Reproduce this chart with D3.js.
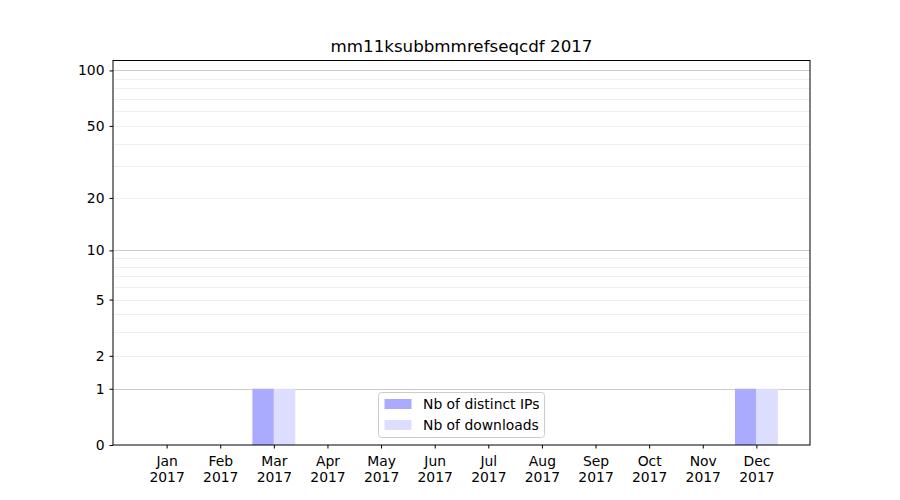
<!DOCTYPE html>
<html><head><meta charset="utf-8">
<script src="https://cdn.jsdelivr.net/npm/d3@7"></script>
<style>body{margin:0;background:#fff}svg{font-family:"DejaVu Sans",sans-serif}</style>
</head><body><svg id="c" width="900" height="500"></svg>
<script>
const months = ["Jan","Feb","Mar","Apr","May","Jun","Jul","Aug","Sep","Oct","Nov","Dec"];
const year = "2017";
const ips = [0,0,1,0,0,0,0,0,0,0,0,1];
const downloads = [0,0,1,0,0,0,0,0,0,0,0,1];
const yTicks = [0,1,2,5,10,20,50,100];
const majorGrid = [1,10,100];
const minorGrid = [2,3,4,5,6,7,8,9,20,30,40,50,60,70,80,90];
const seriesNames = ["Nb of distinct IPs","Nb of downloads"];
const colors = ["#aaaaff","#ddddff"];
const title = "mm11ksubbmmrefseqcdf 2017";

const svg = d3.select("#c");
const L=113, R=810, T=60.5, B=445;
const FS=13.9;
const x = d3.scaleLinear().domain([-1,12]).range([L,R]);
const y = d3.scaleSymlog().constant(1).domain([0,113.2]).range([B,T]);
const bw = x(0.4)-x(0);

const g = svg.append("g");
g.selectAll("line.minor").data(minorGrid).join("line")
  .attr("x1",L).attr("x2",R).attr("y1",d=>Math.round(y(d))+0.5).attr("y2",d=>Math.round(y(d))+0.5)
  .attr("stroke","#ebebeb").attr("stroke-width",0.8);
g.selectAll("line.major").data(majorGrid).join("line")
  .attr("x1",L).attr("x2",R).attr("y1",d=>Math.round(y(d))+0.5).attr("y2",d=>Math.round(y(d))+0.5)
  .attr("stroke","#cccccc").attr("stroke-width",1);

g.selectAll("rect.ip").data(ips).join("rect")
  .attr("x",(d,i)=>x(i)-bw).attr("width",bw)
  .attr("y",d=>y(d)).attr("height",d=>B-y(d)).attr("fill",colors[0]);
g.selectAll("rect.dl").data(downloads).join("rect")
  .attr("x",(d,i)=>x(i)).attr("width",bw)
  .attr("y",d=>y(d)).attr("height",d=>B-y(d)).attr("fill",colors[1]);

// frame
svg.append("rect").attr("x",L).attr("y",T).attr("width",R-L).attr("height",B-T)
  .attr("fill","none").attr("stroke","#000").attr("stroke-width",1);

// y axis
const ya = svg.append("g").attr("transform",`translate(${L},0)`)
  .call(d3.axisLeft(y).tickValues(yTicks).tickFormat(d3.format("d")).tickSize(3.5).tickPadding(5));
ya.select(".domain").remove();
ya.selectAll("text").attr("font-size",FS).attr("fill","#000").attr("font-family","DejaVu Sans");

// x axis
const xa = svg.append("g").attr("transform",`translate(0,${B})`)
  .call(d3.axisBottom(x).tickValues(d3.range(12)).tickSize(3.5).tickFormat(""));
xa.select(".domain").remove();
xa.selectAll(".tick").each(function(d){
  const t=d3.select(this).append("text").attr("fill","#000").attr("font-size",FS)
    .attr("text-anchor","middle").attr("font-family","DejaVu Sans");
  t.append("tspan").attr("x",0).attr("y",21).text(months[d]);
  t.append("tspan").attr("x",0).attr("y",37).text(year);
});

svg.append("text").attr("x",(L+R)/2).attr("y",52).attr("text-anchor","middle")
  .attr("font-size",16.7).attr("fill","#000").text(title);

// legend
const lg = svg.append("g").attr("transform","translate(378.5,392.5)");
lg.append("rect").attr("width",166).attr("height",45).attr("rx",3)
  .attr("fill","#fff").attr("fill-opacity",0.8).attr("stroke","#cccccc");
seriesNames.forEach((n,i)=>{
  lg.append("rect").attr("x",6).attr("y",6.5+i*21).attr("width",27).attr("height",10).attr("fill",colors[i]);
  lg.append("text").attr("x",44.5).attr("y",16.5+i*21).attr("font-size",FS).attr("fill","#000").text(n);
});
</script></body></html>
